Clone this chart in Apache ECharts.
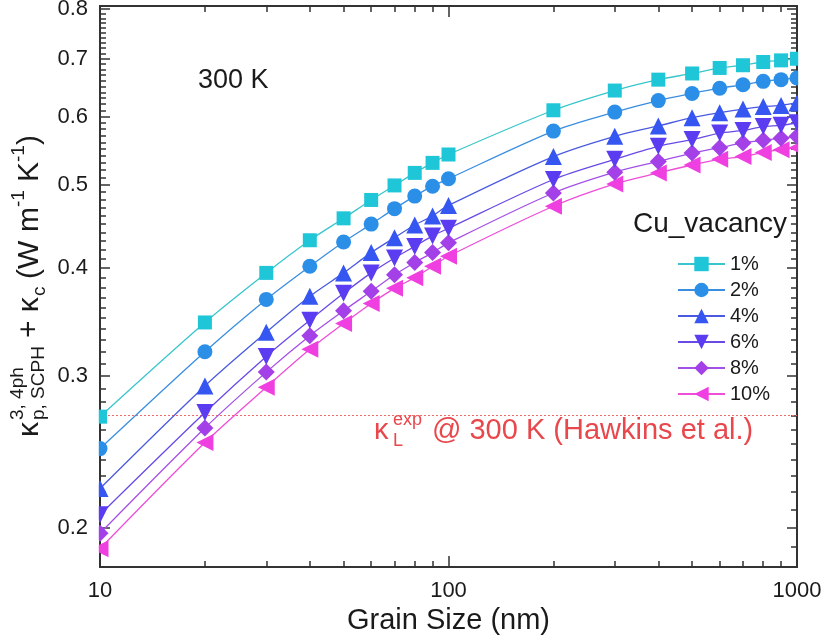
<!DOCTYPE html>
<html>
<head>
<meta charset="utf-8">
<script src="https://cdn.jsdelivr.net/npm/echarts@6/dist/echarts.min.js"></script>
<style>
html, body { margin: 0; padding: 0; background: #fff; }
#chart { width: 826px; height: 639px; }
</style>
</head>
<body>
<div id="chart"></div>
<script>
// grain size (nm)
const grainSize = [10, 20, 30, 40, 50, 60, 70, 80, 90, 100, 200, 300, 400, 500, 600, 700, 800, 900, 1000];
// kappa (W m-1 K-1) per Cu vacancy concentration
const vac1  = [0.269, 0.346, 0.395, 0.431, 0.457, 0.480, 0.499, 0.516, 0.530, 0.542, 0.610, 0.643, 0.662, 0.673, 0.683, 0.688, 0.694, 0.697, 0.700];
const vac2  = [0.247, 0.320, 0.368, 0.402, 0.429, 0.450, 0.469, 0.485, 0.498, 0.508, 0.577, 0.607, 0.626, 0.638, 0.647, 0.653, 0.659, 0.662, 0.665];
const vac4  = [0.222, 0.292, 0.337, 0.371, 0.395, 0.417, 0.434, 0.449, 0.460, 0.473, 0.539, 0.569, 0.585, 0.598, 0.606, 0.612, 0.616, 0.618, 0.622];
const vac6  = [0.207, 0.272, 0.316, 0.348, 0.374, 0.395, 0.411, 0.424, 0.436, 0.445, 0.507, 0.535, 0.554, 0.564, 0.574, 0.578, 0.584, 0.586, 0.590];
const vac8  = [0.197, 0.261, 0.303, 0.334, 0.357, 0.376, 0.393, 0.406, 0.417, 0.428, 0.489, 0.517, 0.532, 0.544, 0.552, 0.559, 0.563, 0.566, 0.569];
const vac10 = [0.189, 0.251, 0.291, 0.322, 0.345, 0.364, 0.379, 0.390, 0.402, 0.413, 0.472, 0.501, 0.516, 0.527, 0.535, 0.539, 0.545, 0.549, 0.552];

const seriesNames = ['1%', '2%', '4%', '6%', '8%', '10%'];
const hawkinsValue = 0.274;   // experimental kappa_L @ 300 K

// tick labels / positions
const yMajorTicks = [0.2, 0.3, 0.4, 0.5, 0.6, 0.7, 0.8];
const xMinorTicks = [20, 30, 40, 50, 60, 70, 80, 90, 200, 300, 400, 500, 600, 700, 800, 900];
const yMin = 0.18, yMax = 0.806;

const yMinorTicks = [];
for (let k = 18; k <= 80; k++) {
  if (k % 10 !== 0) yMinorTicks.push(k / 100);
}

const FONT = '"Liberation Sans", Arial, sans-serif';
const lg = v => Math.log10(v);

let myChart = echarts.init(document.getElementById('chart'));

const allData = [vac1, vac2, vac4, vac6, vac8, vac10];
const colors = ['#1fc6d8', '#2b8fe8', '#3656f2', '#5b3cf0', '#a340e8', '#f03fe0'];
const lineColors = ['#38c6cc', '#3a8ee0', '#4a5ae0', '#6a4ae6', '#a450e6', '#ee4ed8'];
const symbols = ['rect', 'circle', 'triangle', 'triangle', 'diamond', 'triangle'];
const rotates = [0, 0, 0, 180, 0, 90];
const sizes = [14, 15, 17, 17, 17, 17];

const axisLineStyle = { color: '#333', width: 2 };

// helper axes in log10 space, only used to draw ticks / labels
function tickAxis(position, values, len, showLabel) {
  const vertical = position === 'left' || position === 'right';
  return {
    type: 'value',
    position: position,
    min: lg(vertical ? yMin : 10),
    max: lg(vertical ? yMax : 1000),
    axisLine: { show: true, onZero: false, lineStyle: axisLineStyle },
    axisTick: { show: true, inside: true, length: len, customValues: values.map(lg), lineStyle: { color: '#333', width: 1.5 } },
    axisLabel: showLabel ? {
      show: true, customValues: values.map(lg), fontSize: 22, color: '#1a1a1a', margin: 12, fontFamily: FONT,
      formatter: v => Math.pow(10, v).toFixed(1)
    } : { show: false },
    splitLine: { show: false },
    minorTick: { show: false }
  };
}

const ink = '#1a1a1a';
const red = '#e8474c';
function txt(x, y, text, size, color) {
  return { type: 'text', x: x, y: y, style: { text: text, font: size + 'px ' + FONT, fill: color || ink, textVerticalAlign: 'middle', verticalAlign: 'middle' } };
}
// white strips just outside the frame, so edge markers look cut like the original
function mask(x, w) {
  return { type: 'rect', z: 50, silent: true, shape: { x: x, y: 0, width: w, height: 580 }, style: { fill: '#fff' } };
}

let options = {
  animation: false,
  backgroundColor: '#fff',
  textStyle: { fontFamily: FONT },
  grid: { left: 100, right: 29, top: 6, bottom: 72, outerBoundsMode: 'none', containLabel: false },
  xAxis: [
    {
      type: 'log', logBase: 10, min: 10, max: 1000, position: 'bottom',
      name: 'Grain Size (nm)', nameLocation: 'middle', nameGap: 27,
      nameTextStyle: { fontSize: 29, color: ink, fontFamily: FONT },
      axisLine: { show: true, onZero: false, lineStyle: axisLineStyle },
      axisTick: { show: true, inside: true, length: 11, lineStyle: { color: '#333', width: 1.5 } },
      axisLabel: { fontSize: 22, color: ink, margin: 13, fontFamily: FONT, formatter: v => String(v) },
      splitLine: { show: false }
    },
    tickAxis('bottom', xMinorTicks, 6, false),
    {
      type: 'log', logBase: 10, min: 10, max: 1000, position: 'top',
      axisLine: { show: true, onZero: false, lineStyle: axisLineStyle },
      axisTick: { show: true, inside: true, length: 11, lineStyle: { color: '#333', width: 1.5 } },
      axisLabel: { show: false },
      splitLine: { show: false }
    },
    tickAxis('top', xMinorTicks, 6, false)
  ],
  yAxis: [
    {
      type: 'log', logBase: 10, min: yMin, max: yMax,
      axisLine: { show: false }, axisTick: { show: false }, axisLabel: { show: false },
      splitLine: { show: false }
    },
    tickAxis('left', yMajorTicks, 10, true),
    tickAxis('left', yMinorTicks, 6, false),
    tickAxis('right', yMajorTicks, 10, false),
    tickAxis('right', yMinorTicks, 6, false)
  ],
  legend: {
    orient: 'vertical', left: 672, top: 249,
    itemWidth: 47, itemHeight: 18, itemGap: 6,
    textStyle: { fontSize: 20, color: ink, fontFamily: FONT },
    data: seriesNames
  },
  graphic: [
    mask(89, 9.8),
    mask(798.2, 14),
    txt(198, 81, '300 K', 27),
    txt(633, 224, 'Cu_vacancy', 28),
    // experimental annotation
    txt(374, 431, 'κ', 29, red),
    txt(393, 420, 'exp', 18, red),
    txt(393, 441, 'L', 18, red),
    txt(432, 431, '@ 300 K (Hawkins et al.)', 29, red),
    // y axis title, rotated
    {
      type: 'group', x: 30, y: 437, rotation: Math.PI / 2,
      children: [
        txt(0, 0, 'κ', 30),
        txt(17, -12, '3, 4ph', 19),
        txt(17, 9, 'p, SCPH', 19),
        txt(99, 0, '+ κ', 30),
        txt(141, 10, 'c', 19),
        txt(158, 0, '(W', 30),
        txt(205, 0, 'm', 30),
        txt(230, -11, '-1', 19),
        txt(255, 0, 'K', 30),
        txt(275, -11, '-1', 19),
        txt(292, 0, ')', 30)
      ]
    }
  ],
  series: allData.map((vals, i) => ({
    name: seriesNames[i],
    type: 'line',
    xAxisIndex: 0,
    yAxisIndex: 0,
    data: grainSize.map((g, j) => [g, vals[j]]),
    smooth: 0.3,
    symbol: symbols[i],
    symbolSize: sizes[i],
    symbolRotate: rotates[i],
    itemStyle: { color: colors[i] },
    lineStyle: { color: lineColors[i], width: 1.3 },
    z: 10 - i,
    markLine: i === 0 ? {
      silent: true, symbol: 'none', label: { show: false },
      lineStyle: { type: [2, 2], color: '#f06a6a', width: 1, opacity: 1 },
      data: [{ yAxis: hawkinsValue, lineStyle: { color: '#f06a6a' } }]
    } : undefined
  }))
};

myChart.setOption(options);
</script>
</body>
</html>
